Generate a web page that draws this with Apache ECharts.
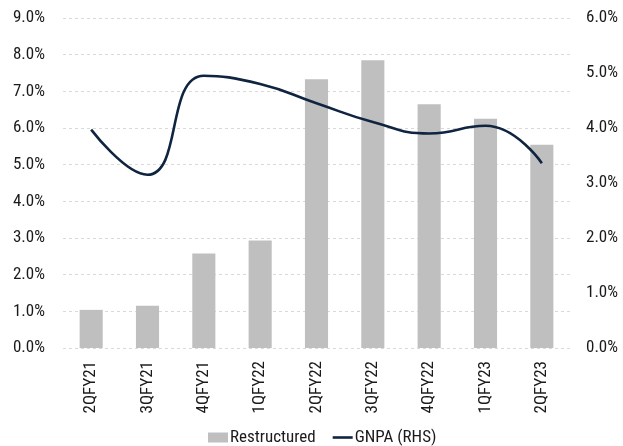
<!DOCTYPE html>
<html>
<head>
<meta charset="utf-8">
<script src="https://cdn.jsdelivr.net/npm/echarts@6/dist/echarts.min.js"></script>
<style>html,body{margin:0;padding:0;background:#fff;overflow:hidden;}#c{width:623px;height:446px;}</style>
</head>
<body>
<div id="c"></div>
<script>
const categories = ['2QFY21','3QFY21','4QFY21','1QFY22','2QFY22','3QFY22','4QFY22','1QFY23','2QFY23'];
const restructured = [1.04, 1.15, 2.58, 2.93, 7.33, 7.85, 6.65, 6.25, 5.54];
const gnpa = [3.97, 3.15, 4.95, 4.80, 4.45, 4.11, 3.90, 4.04, 3.36];
const leftTicks = {min: 0, max: 9, interval: 1};
const rightTicks = {min: 0, max: 6, interval: 1};

const font = '"Roboto Condensed", "Liberation Sans", Arial, sans-serif';
const txt = '#1a1a1a';
const fs = 17;
const chart = echarts.init(document.getElementById('c'), null, {renderer: 'canvas'});
chart.setOption({
  animation: false,
  textStyle: {fontFamily: font},
  legend: {
    left: 203, top: 424, itemGap: 17, itemWidth: 20, itemHeight: 10,
    textStyle: {fontFamily: font, fontSize: fs, color: txt, padding: [0, 0, 0, -3]},
    data: [
      {name: 'Restructured', icon: 'rect'},
      {name: 'GNPA (RHS)', icon: 'path://M0 0H20V2.6H0Z'}
    ]
  },
  grid: {left: 63, right: 53, top: 18, bottom: 98, containLabel: false, outerBoundsMode: 'none'},
  xAxis: {
    type: 'category', data: categories,
    axisLine: {show: false}, axisTick: {show: false},
    axisLabel: {rotate: 90, margin: 13, fontSize: fs, color: txt, fontFamily: font}
  },
  yAxis: [
    {
      type: 'value', min: leftTicks.min, max: leftTicks.max, interval: leftTicks.interval,
      axisLabel: {formatter: v => v.toFixed(1) + '%', fontSize: fs, color: txt, margin: 18, fontFamily: font},
      splitLine: {lineStyle: {color: '#d9d9d9', type: [3, 3], width: 1}},
      axisLine: {show: false}, axisTick: {show: false}
    },
    {
      type: 'value', min: rightTicks.min, max: rightTicks.max, interval: rightTicks.interval,
      axisLabel: {formatter: v => v.toFixed(1) + '%', fontSize: fs, color: txt, margin: 16, fontFamily: font},
      splitLine: {show: false}, axisLine: {show: false}, axisTick: {show: false}
    }
  ],
  series: [
    {
      name: 'Restructured', type: 'bar', data: restructured, yAxisIndex: 0,
      barWidth: '41%', itemStyle: {color: '#bfbfbf'}
    },
    {
      name: 'GNPA (RHS)', type: 'line', data: gnpa, yAxisIndex: 1,
      smooth: 0.5, symbol: 'none',
      lineStyle: {color: '#0f2440', width: 2.6},
      itemStyle: {color: '#0f2440'}
    }
  ]
});
</script>
</body>
</html>
